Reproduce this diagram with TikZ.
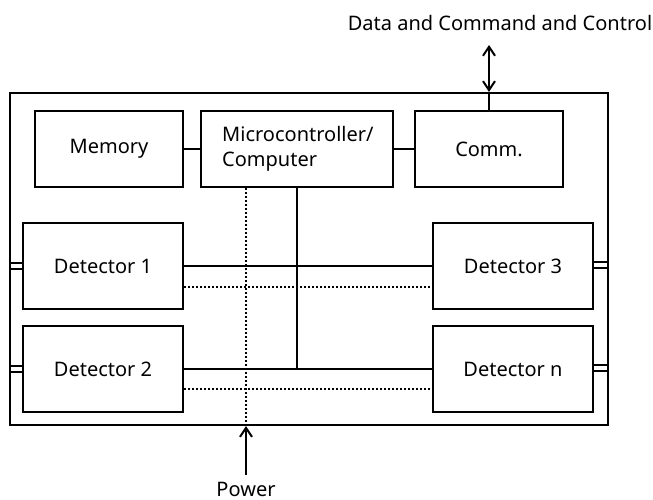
\documentclass[tikz,border=0pt]{standalone}
\usepackage{fontspec}
\setmainfont{Noto Sans}
\usetikzlibrary{arrows.meta}
\begin{document}
\begin{tikzpicture}[x=1pt,y=-1pt,
  blk/.style={draw,line width=2.2pt,inner sep=0pt,font=\fontsize{20}{25}\selectfont},
  wire/.style={line width=2.2pt},
  dwire/.style={line width=2.2pt,dash pattern=on 1.8pt off 2.2pt},
  lbl/.style={font=\fontsize{20}{25}\selectfont,inner sep=0pt},
  barb/.tip={Straight Barb[length=9pt,width=12pt,line width=2pt]},
  tip/.style={-barb}]
\useasboundingbox (0,0) rectangle (653,499);
\node[blk,minimum width=598pt,minimum height=332pt] (sys) at (309,259) {};
\node[blk,minimum width=148pt,minimum height=76pt] (mem) at (109,149) {Memory};
\node[blk,minimum width=192pt,minimum height=76pt] (mcu) at (297,149) {};
\node[lbl,anchor=west,align=left] (mcut) at (222,149) {Microcontroller/\\Computer};
\node[blk,minimum width=148pt,minimum height=76pt] (comm) at (489,149) {Comm.};
\node[blk,minimum width=160pt,minimum height=86pt] (d1) at (103,266) {Detector 1};
\node[blk,minimum width=160pt,minimum height=86pt] (d2) at (103,369) {Detector 2};
\node[blk,minimum width=160pt,minimum height=86pt] (d3) at (513,266) {Detector 3};
\node[blk,minimum width=160pt,minimum height=86pt] (dn) at (513,369) {Detector n};
% top link
\coordinate (dcc) at (489,45);
\node[lbl,anchor=base] (dcct) at (500,30) {Data and Command and Control};
\draw[wire,barb-barb] (comm.north |- sys.north) -- (dcc);
\draw[wire] (comm.north) -- (comm.north |- sys.north);
% internal links
\draw[wire] (mem.east) -- (mcu.west);
\draw[wire] (mcu.east) -- (comm.west);
\draw[wire] (d1.east) -- (d3.west);
\draw[dwire] ([yshift=-21pt]d1.east) -- ([yshift=-21pt]d3.west);
\draw[wire] (d2.east) -- (dn.west);
\draw[dwire] ([yshift=-20pt]d2.east) -- ([yshift=-20pt]dn.west);
\draw[wire] (mcu.south) -- (mcu.south |- d2.east);
\draw[dwire] ([xshift=-51pt]mcu.south) -- ([xshift=-51pt]mcu.south |- sys.south);
% power
\coordinate (pwr) at (246,475);
\node[lbl,anchor=base] (pwrt) at (246,496) {Power};
\draw[wire,tip] (pwr) -- (pwr |- sys.south);
% external double connectors
\foreach \n in {d1,d2}{
  \draw[wire] ([yshift=3pt]\n.west) -- ([yshift=3pt]\n.west -| sys.west);
  \draw[wire] ([yshift=-3pt]\n.west) -- ([yshift=-3pt]\n.west -| sys.west);
}
\foreach \n in {d3,dn}{
  \draw[wire] ([yshift=4pt]\n.east) -- ([yshift=4pt]\n.east -| sys.east);
  \draw[wire] ([yshift=-2pt]\n.east) -- ([yshift=-2pt]\n.east -| sys.east);
}
\end{tikzpicture}
\end{document}
